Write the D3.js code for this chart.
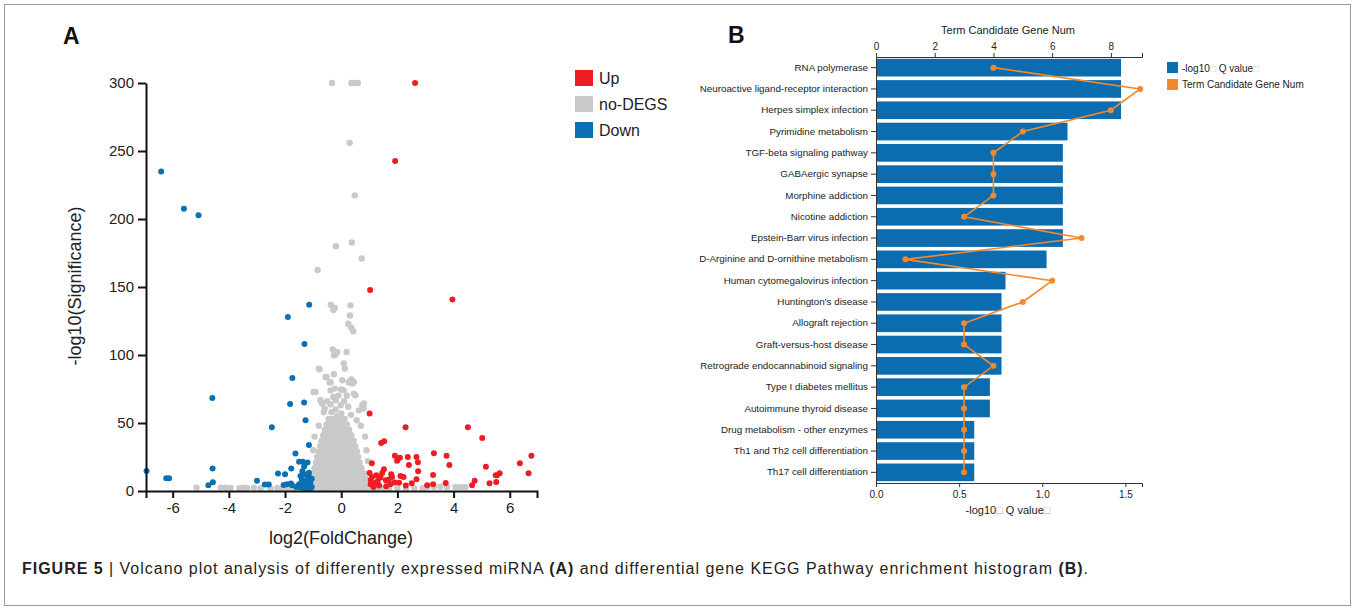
<!DOCTYPE html>
<html>
<head>
<meta charset="utf-8">
<script src="https://cdn.jsdelivr.net/npm/d3@7"></script>
<style>
  body { margin: 0; background: #fff; }
  svg { display: block; font-family: Arial, "Liberation Sans", sans-serif; }
</style>
</head>
<body>
<svg id="fig" width="1354" height="610"></svg>
<script>
// ---------- Panel A: volcano plot data [log2FC, -log10(p)] ----------
const upPoints = [
  [2.63,300],[1.92,242.6],[1.03,147.8],[3.96,140.9],[1.01,56.9],[2.29,46.8],[4.51,46.8],[5.02,38.9],
  [1.42,35.3],[1.53,36.5],[6.77,26],[6.36,20.4],[6.67,13],[3.30,27.7],[3.75,26],[3.85,19.1],[5.15,17.9],
  [1.91,26],[2.09,24.5],[1.99,22.3],[2.37,25],[2.68,25],[2.41,19.1],[2.73,21.1],[2.74,14.5],[1.09,20.4],
  [1.52,16],[1.46,13.3],[1.01,13.3],[1.10,10.3],[1.78,12.3],[1.81,10.3],[2.11,11],[2.22,10.3],[1.30,7.4],
  [1.20,5.9],[1.59,7.9],[1.90,6.2],[2.06,6],[2.51,5.7],[2.68,8.6],[3.06,4.2],[3.27,4.9],[3.72,5.9],
  [3.27,11.8],[4.75,7.6],[4.66,4.2],[5.28,5.7],[5.52,6.6],[5.55,11.5],[5.64,13],[5.50,11.5],
  [1.05,5],[1.15,3],[1.35,4],[1.6,3.5],[1.75,5],[2.3,4],[1.4,10],[1.25,11.5],[1.05,8],[1.7,8.5]
];
const downPoints = [
  [-6.41,235],[-5.60,207.6],[-5.08,202.7],[-1.14,137],[-1.90,128],[-1.31,108],[-1.74,83],[-4.59,68.4],
  [-1.82,64],[-1.32,65],[-1.27,52],[-2.47,46.8],[-1.15,33.8],[-1.63,27.5],[-1.5,21.5],[-1.37,21.5],
  [-1.2,21],[-1.32,18],[-1.78,16.5],[-4.58,16.5],[-6.93,14.7],[-6.23,9.3],[-6.13,9.3],[-2.25,12.8],
  [-2.0,12.4],[-4.57,6.4],[-4.73,4.2],[-3.0,7.6],[-2.72,4.7],[-2.58,4.7],[-2.05,4.5],[-1.93,5],
  [-1.79,5.5],[-1.75,4.3],[-1.45,11],[-1.3,12],[-1.15,10.5],[-1.05,9],[-1.4,8],[-1.25,7.5],[-1.1,6],
  [-1.5,5],[-1.35,4.5],[-1.2,3.5],[-1.05,3],[-1.45,2.5],[-1.6,3],[-1.3,1.5],[-1.1,1.5],[-1.15,13.5],[-1.38,14.5]
];
const grayPoints = [
  // scattered non-significant points
  [-0.33,300],[0.36,300],[0.43,300],[0.59,300],[0.30,256],[0.48,217.4],[-0.19,180],[0.38,182.8],
  [0.73,171],[-0.84,162.5],[-0.37,137],[-0.23,134.6],[-0.28,133],[0.33,136.5],[0.31,129],[0.25,123],
  [0.36,120],[0.43,117.4],[-0.30,104],[-0.20,100.3],[0.19,102.2],[-0.26,99.8],[-0.14,102],
  [-0.77,89.5],[-0.52,83.8],[-0.26,85.8],[0.09,93.7],[0.13,90],[0.36,82.1],[0.45,80.1],[0.04,81.4],
  [-0.41,79.7],[-0.23,75.3],[0,74.6],[0.09,74],[-0.91,72.8],[-0.74,66.7],[-0.59,60.6],[-0.38,63.7],
  [-0.28,69.1],[-0.20,66.7],[0.51,70.4],[0.81,64.3],[0.63,59.3],[-0.80,90],[-0.56,83.8],[-0.38,80],
  [0.27,80],[0.39,79],[-0.98,72.8],[-0.38,74],[0.45,71.6],[-0.68,64.3],[-0.62,58],[-0.02,63],
  [0.75,63],[0.80,60.6],[-0.35,58],[-0.2,60],[0,57],[0.1,66],[0.25,62],[-0.1,70],[0.2,70],[-0.5,66],
  [0.35,56],[-0.15,55],[0.55,52],[0.7,48],[-0.8,48],[0.85,40],[-0.95,40],[0.9,30],[0.95,22],[-1.0,30],
  // low-significance tails
  [-5.15,2.5],[-4.29,2.5],[-4.11,2.5],[-3.94,2.3],[-3.62,2],[-3.49,2.5],[-3.35,2.3],[-3.11,2.5],
  [-2.87,2],[-2.52,2],[-2.28,2.2],[-2.1,2],[-1.9,2.2],[-1.7,2],[-1.5,1.8],
  [1.1,1.5],[1.3,1.5],[1.5,1.8],[1.7,1.5],[2.0,1.8],[2.3,1.5],[2.6,2],[2.9,2],
  [3.06,3],[3.30,3],[3.53,3.2],[3.77,3],[4.07,3],[4.25,3],[4.42,3],
  // dense core
  [-1.1,1.5],[-0.95,1.5],[-0.8,1.5],[-0.65,1.5],[-0.5,1.5],[-0.35,1.5],[-0.2,1.5],[-0.05,1.5],[0.1,1.5],[0.25,1.5],[0.4,1.5],[0.55,1.5],[0.7,1.5],[0.85,1.5],[0.98,1.5],
  [-1.05,5],[-0.9,5],[-0.75,5],[-0.6,5],[-0.45,5],[-0.3,5],[-0.15,5],[0,5],[0.15,5],[0.3,5],[0.45,5],[0.6,5],[0.75,5],[0.9,5],
  [-1.02,9],[-0.87,9],[-0.72,9],[-0.57,9],[-0.42,9],[-0.27,9],[-0.12,9],[0.03,9],[0.18,9],[0.33,9],[0.48,9],[0.63,9],[0.78,9],[0.88,9],
  [-0.98,13],[-0.83,13],[-0.68,13],[-0.53,13],[-0.38,13],[-0.23,13],[-0.08,13],[0.07,13],[0.22,13],[0.37,13],[0.52,13],[0.67,13],[0.8,13],
  [-0.95,17],[-0.8,17],[-0.65,17],[-0.5,17],[-0.35,17],[-0.2,17],[-0.05,17],[0.1,17],[0.25,17],[0.4,17],[0.55,17],[0.72,17],
  [-0.9,21],[-0.76,21],[-0.62,21],[-0.48,21],[-0.34,21],[-0.2,21],[-0.06,21],[0.08,21],[0.22,21],[0.36,21],[0.5,21],[0.65,21],
  [-0.86,25],[-0.72,25],[-0.58,25],[-0.44,25],[-0.3,25],[-0.16,25],[-0.02,25],[0.12,25],[0.26,25],[0.4,25],[0.6,25],
  [-0.8,29],[-0.66,29],[-0.52,29],[-0.38,29],[-0.24,29],[-0.1,29],[0.04,29],[0.18,29],[0.32,29],[0.46,29],[0.56,29],
  [-0.75,33],[-0.61,33],[-0.47,33],[-0.33,33],[-0.19,33],[-0.05,33],[0.09,33],[0.23,33],[0.37,33],[0.5,33],
  [-0.7,37],[-0.56,37],[-0.42,37],[-0.28,37],[-0.14,37],[0,37],[0.14,37],[0.28,37],[0.44,37],
  [-0.64,41],[-0.5,41],[-0.36,41],[-0.22,41],[-0.08,41],[0.06,41],[0.2,41],[0.36,41],
  [-0.58,45],[-0.44,45],[-0.3,45],[-0.16,45],[-0.02,45],[0.12,45],[0.28,45],
  [-0.52,49],[-0.38,49],[-0.24,49],[-0.1,49],[0.04,49],[0.2,49],
  [-0.45,53],[-0.3,53],[-0.16,53],[-0.02,53],[0.12,53]
];
const volcanoXTicks = [-6, -4, -2, 0, 2, 4, 6];
const volcanoYTicks = [0, 50, 100, 150, 200, 250, 300];
const volcanoLegend = ["Up", "no-DEGS", "Down"];

// ---------- Panel B: KEGG enrichment data ----------
const pathways = [
  "RNA polymerase", "Neuroactive ligand-receptor interaction", "Herpes simplex infection",
  "Pyrimidine metabolism", "TGF-beta signaling pathway", "GABAergic synapse", "Morphine addiction",
  "Nicotine addiction", "Epstein-Barr virus infection", "D-Arginine and D-ornithine metabolism",
  "Human cytomegalovirus infection", "Huntington's disease", "Allograft rejection",
  "Graft-versus-host disease", "Retrograde endocannabinoid signaling", "Type I diabetes mellitus",
  "Autoimmune thyroid disease", "Drug metabolism - other enzymes", "Th1 and Th2 cell differentiation",
  "Th17 cell differentiation"
];
const qValues = [1.474, 1.474, 1.474, 1.152, 1.124, 1.124, 1.124, 1.124, 1.124, 1.026,
                 0.779, 0.755, 0.755, 0.755, 0.755, 0.685, 0.685, 0.591, 0.591, 0.591];
const geneNums = [4, 9, 8, 5, 4, 4, 4, 3, 7, 1, 6, 5, 3, 3, 4, 3, 3, 3, 3, 3];
const qTicks = [0, 0.5, 1.0, 1.5];
const geneTicks = [0, 2, 4, 6, 8];

const RED = "#ee1d23", GRAY = "#c9c9c9", BLUE = "#0a70b3";
const BAR = "#0b6cb0", ORANGE = "#f4892b";

const svg = d3.select("#fig");

// outer frame
svg.append("rect").attr("x", 4.5).attr("y", 4.5).attr("width", 1346).attr("height", 601)
  .attr("fill", "none").attr("stroke", "#9a9a9a").attr("stroke-width", 1);

// ================= Panel A =================
const vx = d3.scaleLinear().domain([-6.95, 6.97]).range([146, 537]);
const vy = d3.scaleLinear().domain([0, 300]).range([491, 83]);
const gA = svg.append("g");

const dotLayer = gA.append("g");
dotLayer.selectAll("circle.gray").data(grayPoints).join("circle")
  .attr("class", "gray").attr("cx", d => vx(d[0])).attr("cy", d => vy(d[1])).attr("r", 3.2).attr("fill", GRAY);
dotLayer.selectAll("circle.down").data(downPoints).join("circle")
  .attr("class", "down").attr("cx", d => vx(d[0])).attr("cy", d => vy(d[1])).attr("r", 3).attr("fill", BLUE);
dotLayer.selectAll("circle.up").data(upPoints).join("circle")
  .attr("class", "up").attr("cx", d => vx(d[0])).attr("cy", d => vy(d[1])).attr("r", 3).attr("fill", RED);

const plainNum = d => String(d);
const ax = gA.append("g").attr("transform", "translate(0,491)")
  .call(d3.axisBottom(vx).tickValues(volcanoXTicks).tickFormat(plainNum).tickSize(7).tickSizeOuter(7).tickPadding(4));
const ay = gA.append("g").attr("transform", "translate(146,0)")
  .call(d3.axisLeft(vy).tickValues(volcanoYTicks).tickFormat(plainNum).tickSize(8).tickSizeOuter(0).tickPadding(4));
[ax, ay].forEach(a => {
  a.selectAll("path, line").attr("stroke", "#111").attr("stroke-width", 2);
  a.selectAll("text").attr("font-size", 15).attr("fill", "#222").attr("font-family", "Arial, 'Liberation Sans', sans-serif");
});

gA.append("text").attr("x", 341).attr("y", 544).attr("text-anchor", "middle")
  .attr("font-size", 18).attr("fill", "#222").text("log2(FoldChange)");
gA.append("text").attr("transform", "translate(81,286) rotate(-90)").attr("text-anchor", "middle")
  .attr("font-size", 18).attr("fill", "#222").text("-log10(Significance)");

const legA = gA.append("g");
const legColors = [RED, GRAY, BLUE];
volcanoLegend.forEach((name, i) => {
  const cy = 78 + i * 26;
  legA.append("rect").attr("x", 575).attr("y", cy - 8).attr("width", 18).attr("height", 16).attr("fill", legColors[i]);
  legA.append("text").attr("x", 599).attr("y", cy + 6).attr("font-size", 16).attr("fill", "#222").text(name);
});

svg.append("text").attr("x", 63).attr("y", 44).attr("font-size", 23).attr("font-weight", "bold").attr("fill", "#111").text("A");

// ================= Panel B =================
const gB = svg.append("g");
const by = d3.scaleBand().domain(pathways).range([57, 483]).paddingInner(0.17).paddingOuter(0.085);
const bx = d3.scaleLinear().domain([0, 1.6]).range([876, 1142]);
const tx = d3.scaleLinear().domain([0, 9.06]).range([876, 1142]);

const rows = pathways.map((p, i) => ({ name: p, q: qValues[i], n: geneNums[i] }));

gB.selectAll("rect.bar").data(rows).join("rect")
  .attr("class", "bar")
  .attr("x", bx(0)).attr("y", d => by(d.name))
  .attr("width", d => bx(d.q) - bx(0)).attr("height", by.bandwidth())
  .attr("fill", BAR);

const line = d3.line().x(d => tx(d.n)).y(d => by(d.name) + by.bandwidth() / 2);
gB.append("path").datum(rows).attr("d", line).attr("fill", "none")
  .attr("stroke", ORANGE).attr("stroke-width", 1.6);
gB.selectAll("circle.pt").data(rows).join("circle")
  .attr("class", "pt").attr("cx", d => tx(d.n)).attr("cy", d => by(d.name) + by.bandwidth() / 2)
  .attr("r", 3).attr("fill", ORANGE);

const bl = gB.append("g").attr("transform", "translate(876,0)")
  .call(d3.axisLeft(by).tickSize(5).tickSizeOuter(0).tickPadding(3));
const bt = gB.append("g").attr("transform", "translate(0,57)")
  .call(d3.axisTop(tx).tickValues(geneTicks).tickSize(4).tickSizeOuter(4).tickPadding(3));
const bb = gB.append("g").attr("transform", "translate(0,483)")
  .call(d3.axisBottom(bx).tickValues(qTicks).tickFormat(d3.format(".1f")).tickSize(4).tickSizeOuter(4).tickPadding(4));
[bl, bt, bb].forEach(a => {
  a.selectAll("path, line").attr("stroke", "#333").attr("stroke-width", 1);
  a.selectAll("text").attr("font-size", 10).attr("fill", "#222").attr("font-family", "Arial, 'Liberation Sans', sans-serif");
});
bl.selectAll("text").attr("font-size", 9.8);

gB.append("text").attr("x", 1008).attr("y", 34).attr("text-anchor", "middle")
  .attr("font-size", 11).attr("fill", "#222").text("Term Candidate Gene Num");

function qLabel(sel, boxColor) {
  sel.append("tspan").text("-log10");
  sel.append("tspan").attr("fill", boxColor).text("\u25A1");
  sel.append("tspan").text(" Q value");
  sel.append("tspan").attr("fill", boxColor).text("\u25A1");
}
gB.append("text").attr("x", 1008).attr("y", 514).attr("text-anchor", "middle")
  .attr("font-size", 11).attr("fill", "#222").call(qLabel, "#aaa");

// legend
gB.append("rect").attr("x", 1167).attr("y", 62).attr("width", 11).attr("height", 11).attr("fill", BAR);
gB.append("text").attr("x", 1182).attr("y", 71.5).attr("font-size", 10).attr("fill", "#222").call(qLabel, "#ccc");
gB.append("rect").attr("x", 1167).attr("y", 79).attr("width", 11).attr("height", 11).attr("fill", ORANGE);
gB.append("text").attr("x", 1182).attr("y", 88).attr("font-size", 10).attr("fill", "#222").text("Term Candidate Gene Num");

svg.append("text").attr("x", 728).attr("y", 43).attr("font-size", 23).attr("font-weight", "bold").attr("fill", "#111").text("B");

// ================= Caption =================
const cap = svg.append("text").attr("x", 22).attr("y", 574).attr("font-size", 16).attr("fill", "#231f20")
  .attr("textLength", 1066).attr("lengthAdjust", "spacing");
cap.append("tspan").attr("font-weight", "bold").text("FIGURE 5");
cap.append("tspan").text(" | Volcano plot analysis of differently expressed miRNA ");
cap.append("tspan").attr("font-weight", "bold").text("(A)");
cap.append("tspan").text(" and differential gene KEGG Pathway enrichment histogram ");
cap.append("tspan").attr("font-weight", "bold").text("(B)");
cap.append("tspan").text(".");
</script>
</body>
</html>
